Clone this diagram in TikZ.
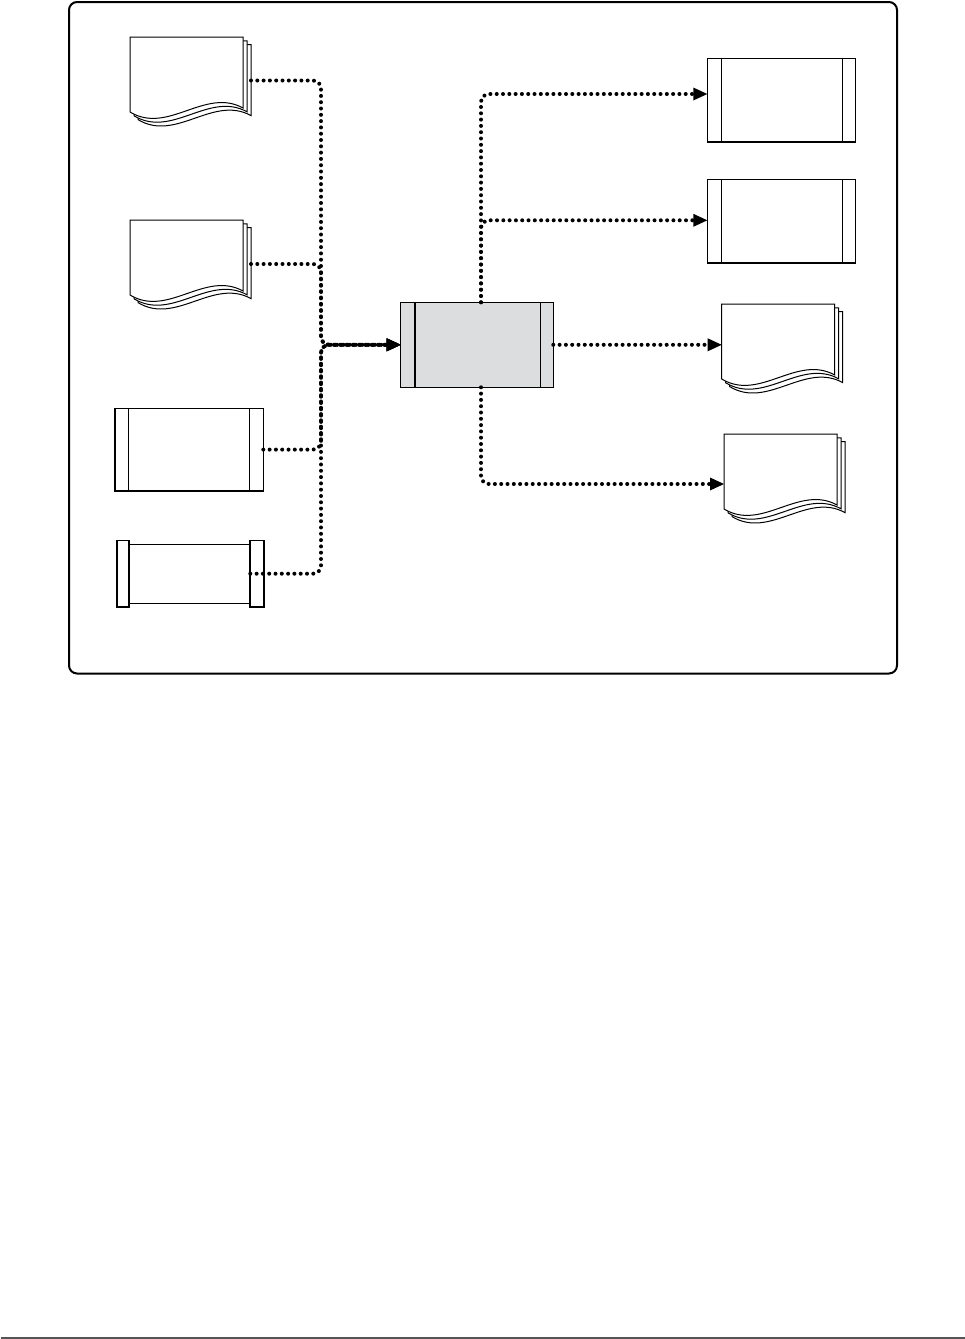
\documentclass[tikz,border=0pt]{standalone}
\usetikzlibrary{arrows.meta,positioning}
\definecolor{boxgrey}{HTML}{DCDDDF}
\definecolor{rulegrey}{HTML}{555555}
\tikzset{
  flow/.style={line width=4pt, dash pattern=on 0pt off 6.3pt, line cap=round, rounded corners=8pt},
  tip/.style={-{Triangle[length=14pt,width=13pt,line width=0pt]}},
  outline/.style={draw, line width=1.1pt, inner sep=0pt, outer sep=0pt},
  pics/docstack/.style={code={
    \foreach \k in {2,1,0} {
      \filldraw[fill=white, line width=1pt, shift={(4*\k,3.8*\k)}]
        (0,0) -- (113,0) -- (113,71) .. controls (75,50) and (38,98) .. (0,75) -- cycle;
    }
    \coordinate (-in) at (0,#1);
    \coordinate (-out) at (121,#1);
  }}
}
\begin{document}
\begin{tikzpicture}[x=1pt,y=-1pt]
    \useasboundingbox (0,0) rectangle (965,1339);
    \draw[line width=2pt, rounded corners=8pt] (69,2) rectangle (897,673.5);

    % sources on the left
    \pic (d1) at (130,37) {docstack=43.5};
    \pic (d2) at (130,220) {docstack=44};

    \node[outline, minimum width=148.6pt, minimum height=82.7pt] (pa) at (189,449.6) {};
    \draw[line width=1.1pt] ([xshift=13.6pt]pa.north west) -- ([xshift=13.6pt]pa.south west);
    \draw[line width=1.1pt] ([xshift=-14pt]pa.north east) -- ([xshift=-14pt]pa.south east);
    \draw[line width=2.4pt] (pa.north west) -- (pa.south west);
    \draw[line width=2.4pt] ([xshift=6pt]pa.south west) -- ([xshift=-6pt]pa.south east);

    \node[outline, minimum width=121pt, minimum height=59.3pt] (pb) at (189.8,573.7) {};
    \node[outline, line width=1.8pt, minimum width=12.6pt, minimum height=66.6pt, anchor=east] (pbl) at (pb.west) {};
    \node[outline, line width=1.8pt, minimum width=13.4pt, minimum height=66.6pt, anchor=west] (pbr) at (pb.east) {};

    % central process
    \node[outline, fill=boxgrey, minimum width=152.6pt, minimum height=85pt] (cp) at (477,344.8) {};
    \draw[line width=2.2pt] ([xshift=14pt]cp.north west) -- ([xshift=14pt]cp.south west);
    \draw[line width=1.1pt] ([xshift=-12.6pt]cp.north east) -- ([xshift=-12.6pt]cp.south east);

    % targets on the right
    \foreach \n/\y in {r1/100, r2/221.3} {
        \node[outline, minimum width=148.4pt, minimum height=83.4pt] (\n) at (781.5,\y) {};
        \draw[line width=1.1pt] ([xshift=14pt]\n.north west) -- ([xshift=14pt]\n.south west);
        \draw[line width=1.1pt] ([xshift=-13.4pt]\n.north east) -- ([xshift=-13.4pt]\n.south east);
        \draw[line width=2.2pt] (\n.south west) -- (\n.south east);
    }
    \pic (d3) at (721.7,304) {docstack=40.8};
    \pic (d4) at (724,434) {docstack=50};

    % connectors
    \coordinate (join) at (321,344.8);
    \foreach \src in {d1-out,d2-out,pa.east,pb.east}
        \draw[flow,tip] (\src) -| (join) -- (cp.west);
    \coordinate (up) at ([xshift=4pt]cp.north);
    \draw[flow,tip] (up) |- ([yshift=6pt]r1.west);
    \draw[flow,tip] (up) |- ([yshift=1pt]r2.west);
    \draw[flow,tip] (cp.east) -- (d3-in);
    \draw[flow,tip] ([xshift=4pt]cp.south) |- (d4-in);

    \draw[rulegrey, line width=2.4pt] (1,1337.8) -- (965,1337.8);
\end{tikzpicture}
\end{document}
